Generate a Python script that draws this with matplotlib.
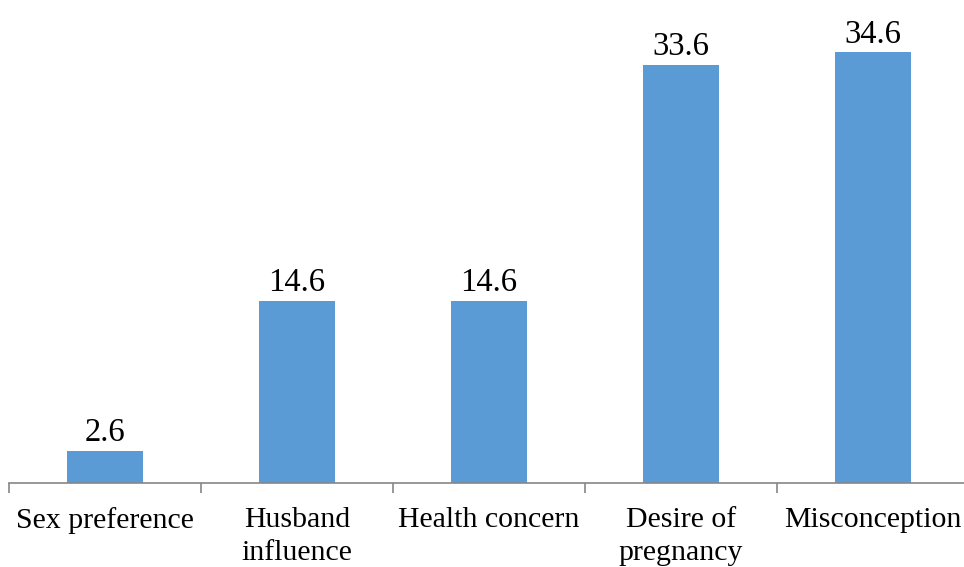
import matplotlib.pyplot as plt

categories = ['Sex preference', 'Husband\ninfluence', 'Health concern',
              'Desire of\npregnancy', 'Misconception']
values = [2.6, 14.6, 14.6, 33.6, 34.6]
value_labels = ['2.6', '14.6', '14.6', '33.6', '34.6']

plt.rcParams['font.family'] = ['Liberation Serif', 'DejaVu Serif']

fig = plt.figure(figsize=(9.64, 5.67), dpi=100)
# axes in figure pixels: x 9..969, baseline at y=483 from top
ax = fig.add_axes([9 / 964, (567 - 483) / 567, 960 / 964, 483 / 567])

x = list(range(len(categories)))
bars = ax.bar(x, values, width=0.40, color='#5B9BD5', edgecolor='none')
ax.bar_label(bars, labels=value_labels, padding=2, fontsize=23.5)

ax.set_xlim(-0.5, len(categories) - 0.5)
ax.set_ylim(0, 38.8)

for s in ['top', 'right', 'left']:
    ax.spines[s].set_visible(False)
ax.spines['bottom'].set_color('#868686')
ax.spines['bottom'].set_linewidth(1.2)

ax.set_yticks([])
ax.set_xticks([i - 0.5 for i in range(len(categories) + 1)], minor=False)
ax.set_xticklabels([])
ax.tick_params(axis='x', which='major', length=7, width=1.2, color='#868686')
ax.set_xticks(x, minor=True)
ax.set_xticklabels(categories, minor=True, fontsize=21.5, linespacing=1.35)
ax.tick_params(axis='x', which='minor', length=0, pad=17)

fig.savefig('out.png', dpi=100)
